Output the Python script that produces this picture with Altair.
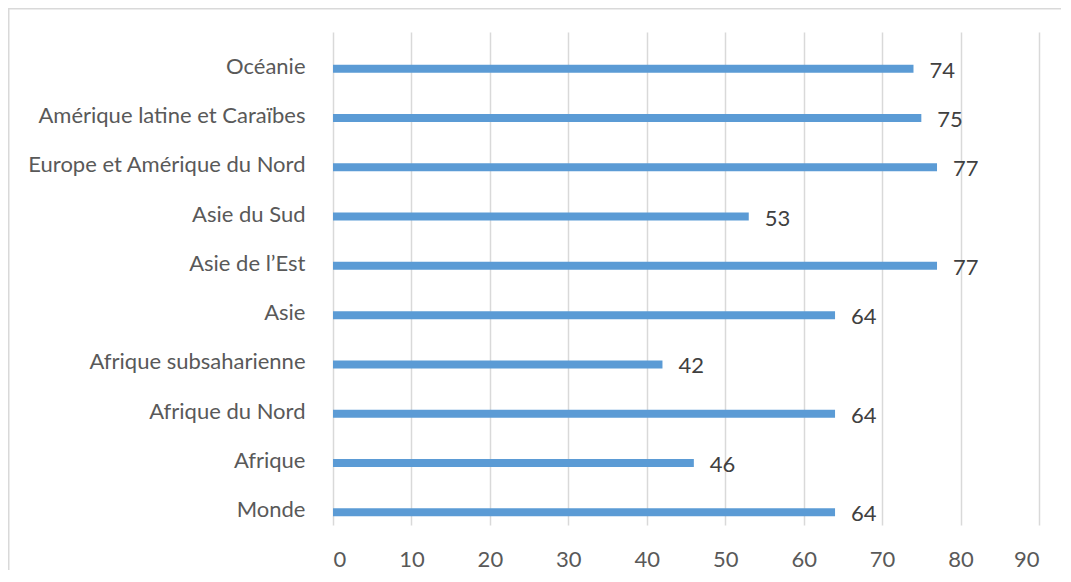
import altair as alt
import pandas as pd

regions = ["Océanie", "Amérique latine et Caraïbes", "Europe et Amérique du Nord",
           "Asie du Sud", "Asie de l\u2019Est", "Asie", "Afrique subsaharienne",
           "Afrique du Nord", "Afrique", "Monde"]
values = [74, 75, 77, 53, 77, 64, 42, 64, 46, 64]
x_ticks = [0, 10, 20, 30, 40, 50, 60, 70, 80, 90]

df = pd.DataFrame({"region": regions, "value": values})

FONT = "Lato"
W, H = 706, 493
OFF = 12

x = alt.X("value:Q", scale=alt.Scale(domain=[0, 90], nice=False),
          axis=alt.Axis(values=x_ticks, title=None, domain=False, ticks=False,
                        grid=True, gridColor="#d9d9d9", gridWidth=1.5,
                        labelFont=FONT, labelFontSize=22, labelColor="#595959",
                        labelPadding=24))
yscale = alt.Scale(paddingInner=0, paddingOuter=0)
y = alt.Y("region:N", sort=regions, scale=yscale,
          axis=alt.Axis(title=None, domain=False, ticks=False, grid=False,
                        labelFont=FONT, labelFontSize=22, labelColor="#595959",
                        labelPadding=28, labelLimit=600, labelOffset=OFF - 2))

bars = alt.Chart(df).mark_bar(color="#5B9BD5", size=8, yOffset=OFF).encode(x=x, y=y)
labels = alt.Chart(df).mark_text(align="left", baseline="middle", dx=16, dy=2,
                                 yOffset=OFF, font=FONT, fontSize=22,
                                 color="#404040").encode(
    x="value:Q", y=alt.Y("region:N", sort=regions, scale=yscale), text="value:Q")

frame = pd.DataFrame({"a": [0]})
top_line = alt.Chart(frame).mark_rule(color="#d9d9d9", strokeWidth=1.5).encode(
    x=alt.value(-325), x2=alt.value(730), y=alt.value(-23.25))
left_line = alt.Chart(frame).mark_rule(color="#d9d9d9", strokeWidth=1.5).encode(
    x=alt.value(-324.25), y=alt.value(-24), y2=alt.value(540))

chart = alt.layer(top_line, left_line, bars, labels).properties(
    width=W, height=H,
    padding={"left": 325, "top": 24, "right": 22, "bottom": 45},
    autosize=alt.AutoSizeParams(type="none"),
).configure_view(stroke=None)

chart.save("out.html", embed_options={"renderer": "svg", "actions": False})
